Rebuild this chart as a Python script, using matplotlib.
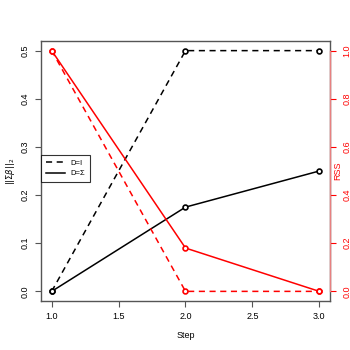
import matplotlib
matplotlib.use("Agg")
import matplotlib.pyplot as plt

# DATA
steps = [1, 2, 3]
norm_identity = [0.0, 0.5, 0.5]      # D=I, ||Sigma beta||_2
norm_sigma = [0.0, 0.175, 0.25]      # D=Sigma
rss_identity = [1.0, 0.0, 0.0]       # D=I, RSS
rss_sigma = [1.0, 0.18, 0.0]         # D=Sigma
x_ticks = [1.0, 1.5, 2.0, 2.5, 3.0]
left_ticks = [0.0, 0.1, 0.2, 0.3, 0.4, 0.5]
right_ticks = [0.0, 0.2, 0.4, 0.6, 0.8, 1.0]

plt.rcParams['font.family'] = ['Liberation Sans', 'DejaVu Sans']
plt.rcParams['mathtext.fontset'] = 'dejavusans'
fs = 6.5
boxcol = '#555555'

fig = plt.figure(figsize=(3.5, 3.5), dpi=100)
ax = fig.add_axes([41/350, 49/350, 289/350, 260/350])

mk = dict(marker='o', markersize=3.5, markerfacecolor='white', markeredgewidth=1.2)
ax.plot(steps, norm_identity, color='black', linestyle=(0, (4, 3)), lw=1.1, label='D=I', **mk)
ax.plot(steps, norm_sigma, color='black', linestyle='-', lw=1.1, label='D=\u03a3', **mk)
ax.set_xlim(0.92, 3.08)
ax.set_ylim(-0.02, 0.52)
ax.set_xticks(x_ticks)
ax.set_xticklabels(['%.1f' % v for v in x_ticks])
ax.set_yticks(left_ticks)
ax.set_yticklabels(['%.1f' % v for v in left_ticks], rotation=90, va='center')
ax.tick_params(labelsize=fs, length=4, width=0.8, color=boxcol, pad=4)
ax.tick_params(axis='y', pad=4)
for s in ax.spines.values():
    s.set_color(boxcol)
    s.set_linewidth(1.0)
ax.set_xlabel('Step', fontsize=fs, labelpad=7)
ax.set_ylabel(r'$||\Sigma\beta||_2$', fontsize=6)
ax.yaxis.set_label_coords(-0.082, 0.5)

leg = ax.legend(loc='center left', bbox_to_anchor=(0.0, 0.51), fontsize=5.5, frameon=True,
                fancybox=False, edgecolor='black', handlelength=2.5, borderpad=0.6,
                labelspacing=0.4, borderaxespad=0)
leg.get_frame().set_linewidth(0.8)
for h in leg.legend_handles:
    h.set_marker('')

ax2 = ax.twinx()
ax2.plot(steps, rss_identity, color='red', linestyle=(0, (4, 3)), lw=1.1, **mk)
ax2.plot(steps, rss_sigma, color='red', linestyle='-', lw=1.1, **mk)
ax2.set_ylim(-0.04, 1.04)
ax2.set_yticks(right_ticks)
ax2.set_yticklabels(['%.1f' % v for v in right_ticks], rotation=90, va='center')
ax2.tick_params(axis='y', labelsize=fs, length=4, width=0.8, colors='red', pad=5)
for k in ['top', 'bottom', 'left']:
    ax2.spines[k].set_visible(False)
ax2.spines['right'].set_color('#e88080')
ax2.spines['right'].set_bounds(0, 1)
ax2.spines['right'].set_linewidth(1.0)
ax2.set_ylabel('RSS', color='red', fontsize=fs)
ax2.yaxis.set_label_coords(1.012, 0.5)

fig.savefig('out.png', dpi=100)
